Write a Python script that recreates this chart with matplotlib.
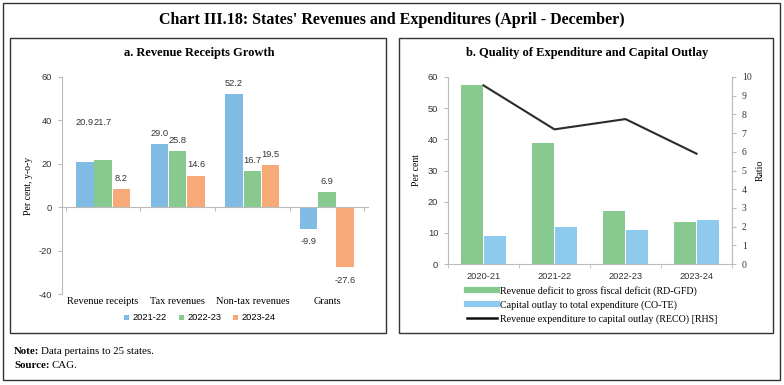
import numpy as np
import matplotlib
matplotlib.use('Agg')
import matplotlib.pyplot as plt
from matplotlib.patches import Rectangle
from matplotlib.lines import Line2D

# ---- data ----
cats_a = ['Revenue receipts', 'Tax revenues', 'Non-tax revenues', 'Grants']
years_a = ['2021-22', '2022-23', '2023-24']
g2122 = [20.9, 29.0, 52.2, -9.9]
g2223 = [21.7, 25.8, 16.7, 6.9]
g2324 = [8.2, 14.6, 19.5, -27.6]

years_b = ['2020-21', '2021-22', '2022-23', '2023-24']
rd_gfd = [57.5, 38.8, 17.1, 13.5]
co_te = [9.1, 11.8, 11.0, 14.0]
reco = [9.55, 7.2, 7.75, 5.9]

BLUE = '#7fbbe3'
GREEN = '#88c98f'
ORANGE = '#f7aa78'
BLUE_B = '#8dcaee'
TXT = '#333333'
SERIF = 'Liberation Serif'
SANS = 'Liberation Sans'
FS = 6.7  # small sans text (ticks, value labels, legend)
plt.rcParams['font.family'] = SANS

W, H = 784, 385
fig = plt.figure(figsize=(7.84, 3.85), dpi=100)


def fx(px):
    return px / W


def fy(py):
    return 1 - py / H


# frames
fig.patches.append(Rectangle((fx(3), fy(380)), fx(777), 377 / H, transform=fig.transFigure,
                             fill=False, lw=1.0, ec='#333333'))
for x0, x1 in ((10, 386), (399, 773)):
    fig.patches.append(Rectangle((fx(x0), fy(333)), fx(x1 - x0), 295 / H,
                                 transform=fig.transFigure, fill=False, lw=1.0, ec='#333333'))
fig.text(0.5, fy(20), "Chart III.18: States' Revenues and Expenditures (April - December)",
         ha='center', va='center', fontsize=11.5, family=SERIF, weight='bold')
fig.text(fx(199), fy(53), 'a. Revenue Receipts Growth', ha='center', va='center',
         fontsize=9, family=SERIF, weight='bold')
fig.text(fx(587), fy(53), 'b. Quality of Expenditure and Capital Outlay', ha='center',
         va='center', fontsize=9, family=SERIF, weight='bold')

# note / source: bold lead-in followed by plain text
r = fig.canvas.get_renderer()
for py, lead, rest in ((352, 'Note:', 'Data pertains to 25 states.'), (366, 'Source:', 'CAG.')):
    t = fig.text(fx(14), fy(py), lead, fontsize=7.8, family=SERIF, weight='bold', va='center')
    wpx = t.get_window_extent(renderer=r).width
    fig.text(fx(14 + wpx + 2), fy(py), rest, fontsize=7.8, family=SERIF, va='center')

# ---- panel a ----
ax = fig.add_axes([fx(62), fy(294), fx(306), 217 / H])
x = np.arange(len(cats_a))
w = 0.235
for off, vals, col, lab in [(-0.245, g2122, BLUE, years_a[0]), (0, g2223, GREEN, years_a[1]),
                            (0.245, g2324, ORANGE, years_a[2])]:
    ax.bar(x + off, vals, w, color=col, label=lab)
    for i, (xi, v) in enumerate(zip(x + off, vals)):
        # first group labels were lifted in the original to clear each other
        ly = 39 if (i == 0 and off <= 0) else v + (5 if v >= 0 else -6)
        ax.text(xi, ly, f'{v:.1f}', ha='center', va='center', fontsize=FS, color=TXT)
ax.set_ylim(-40, 60)
ax.set_xlim(-0.55, 3.55)
ax.set_yticks([-40, -20, 0, 20, 40, 60])
ax.set_yticklabels(['-40', '-20', '0', '20', '40', '60'])
for s in ('top', 'right'):
    ax.spines[s].set_visible(False)
ax.spines['left'].set_color('#bbbbbb')
ax.spines['bottom'].set_position(('data', 0))
ax.spines['bottom'].set_color('#bbbbbb')
ax.spines['bottom'].set_bounds(-0.55, 3.55)
ax.set_xticks(np.arange(-0.5, 4.0, 1.0))
ax.set_xticklabels([])
ax.tick_params(axis='x', length=3, color='#bbbbbb', direction='out')
ax.tick_params(axis='y', length=3, color='#bbbbbb', labelsize=FS, labelcolor=TXT, pad=4)
for xi, c in zip(x, cats_a):
    ax.text(xi, -41.5, c, ha='center', va='top', fontsize=7.5, family=SERIF)
ax.set_ylabel('Per cent, y-o-y', fontsize=7, family=SERIF, labelpad=4)
fig.legend(*ax.get_legend_handles_labels(), loc='center', bbox_to_anchor=(fx(200), fy(318)),
           ncol=3, frameon=False, fontsize=FS, handlelength=0.5, handleheight=0.5,
           columnspacing=1.3, handletextpad=0.4, borderaxespad=0, borderpad=0)

# ---- panel b ----
bx = fig.add_axes([fx(448), fy(264), fx(284), 187 / H])
xb = np.arange(len(years_b))
wb = 0.31
bx.bar(xb - 0.165, rd_gfd, wb, color=GREEN)
bx.bar(xb + 0.165, co_te, wb, color=BLUE_B)
bx.set_ylim(0, 60)
bx.set_xlim(-0.5, 3.5)
bx.set_yticks(range(0, 61, 10))
bx.set_xticks(xb)
bx.set_xticklabels(years_b)
bx.set_xticks(np.arange(-0.5, 4.0, 1.0), minor=True)
bx.tick_params(axis='x', which='major', length=0, labelsize=FS, pad=6, labelcolor=TXT)
bx.tick_params(axis='x', which='minor', length=3, color='#bbbbbb')
bx.tick_params(axis='y', length=3, color='#bbbbbb', labelsize=FS, labelcolor=TXT, pad=4)
bx.spines['top'].set_visible(False)
for s in ('left', 'bottom', 'right'):
    bx.spines[s].set_color('#bbbbbb')
bx.set_ylabel('Per cent', fontsize=7, family=SERIF, labelpad=5)

rx = bx.twinx()
rx.plot(xb, reco, color='#2b2b2b', lw=1.5)
rx.set_ylim(0, 10)
rx.set_yticks(range(0, 11))
rx.tick_params(axis='y', length=3, color='#bbbbbb', labelsize=7, labelcolor=TXT, pad=4)
for lbl in rx.get_yticklabels():
    lbl.set_family(SERIF)
rx.spines['top'].set_visible(False)
rx.spines['right'].set_color('#bbbbbb')
rx.spines['left'].set_visible(False)
rx.spines['bottom'].set_visible(False)
rx.set_ylabel('Ratio', fontsize=7, family=SERIF, labelpad=3)

handles = [Line2D([], [], color=GREEN, lw=4.5), Line2D([], [], color=BLUE_B, lw=4.5),
           Line2D([], [], color='#111111', lw=1.8)]
labels = ['Revenue deficit to gross fiscal deficit (RD-GFD)',
          'Capital outlay to total expenditure (CO-TE)',
          'Revenue expenditure to capital outlay (RECO) [RHS]']
fig.legend(handles, labels, loc='upper left', bbox_to_anchor=(fx(467), fy(286)),
           frameon=False, prop={'family': SERIF, 'size': 7.2}, handlelength=3.0,
           handletextpad=0.25, labelspacing=0.45, borderaxespad=0, borderpad=0)

fig.savefig('out.png', dpi=100)
